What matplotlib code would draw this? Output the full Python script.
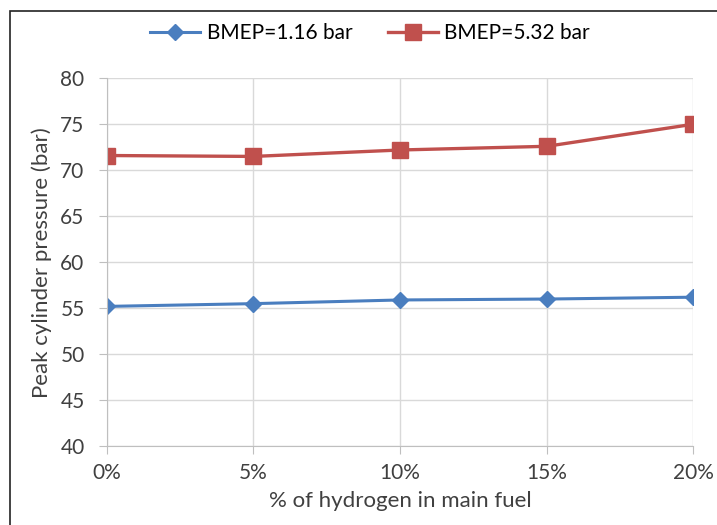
import numpy as np
import matplotlib.pyplot as plt
from matplotlib.patches import Rectangle

plt.rcParams['font.family'] = ['Lato', 'DejaVu Sans']

# data
hydrogen_pct = [0, 5, 10, 15, 20]
x_labels = ['0%', '5%', '10%', '15%', '20%']
bmep_116 = [55.2, 55.5, 55.9, 56.0, 56.2]
bmep_532 = [71.6, 71.5, 72.2, 72.6, 75.0]

fig = plt.figure(figsize=(7.17, 5.25), dpi=100)
ax = fig.add_axes([0.149, 0.150, 0.818, 0.701])

# frame around the figure (only left/top edges show in the original)
fig.patches.append(Rectangle((0.014, -0.05), 1.1, 1.03, transform=fig.transFigure,
                             fill=False, edgecolor='#222222', linewidth=1.2))

ax.plot(hydrogen_pct, bmep_116, color='#4a7ebf', marker='D', markersize=8.5,
        linewidth=2.2, label='BMEP=1.16 bar')
ax.plot(hydrogen_pct, bmep_532, color='#c0504d', marker='s', markersize=11,
        linewidth=2.4, label='BMEP=5.32 bar')

ax.set_xlim(0, 20)
ax.set_ylim(40, 80)
ax.set_yticks(np.arange(40, 81, 5))
ax.set_xticks(hydrogen_pct)
ax.set_xticklabels(x_labels)
ax.grid(True, color='#d9d9d9', linewidth=1)
ax.set_axisbelow(True)

for s in ['top', 'right']:
    ax.spines[s].set_visible(False)
for s in ['left', 'bottom']:
    ax.spines[s].set_color('#bfbfbf')
ax.tick_params(axis='both', labelsize=15, colors='#bfbfbf', labelcolor='#404040')
ax.tick_params(axis='x', pad=6, length=6)
ax.tick_params(axis='y', pad=10, length=6)

ax.set_xlabel('% of hydrogen in main fuel', fontsize=16, color='#404040', labelpad=6)
ax.set_ylabel('Peak cylinder pressure (bar)', fontsize=16, color='#404040', labelpad=6)

fig.legend(loc='center', bbox_to_anchor=(0.516, 0.937), ncol=2, frameon=False,
           fontsize=15, handlelength=2.4, handletextpad=0.3, columnspacing=1.7)

fig.savefig('out.png', dpi=100)
